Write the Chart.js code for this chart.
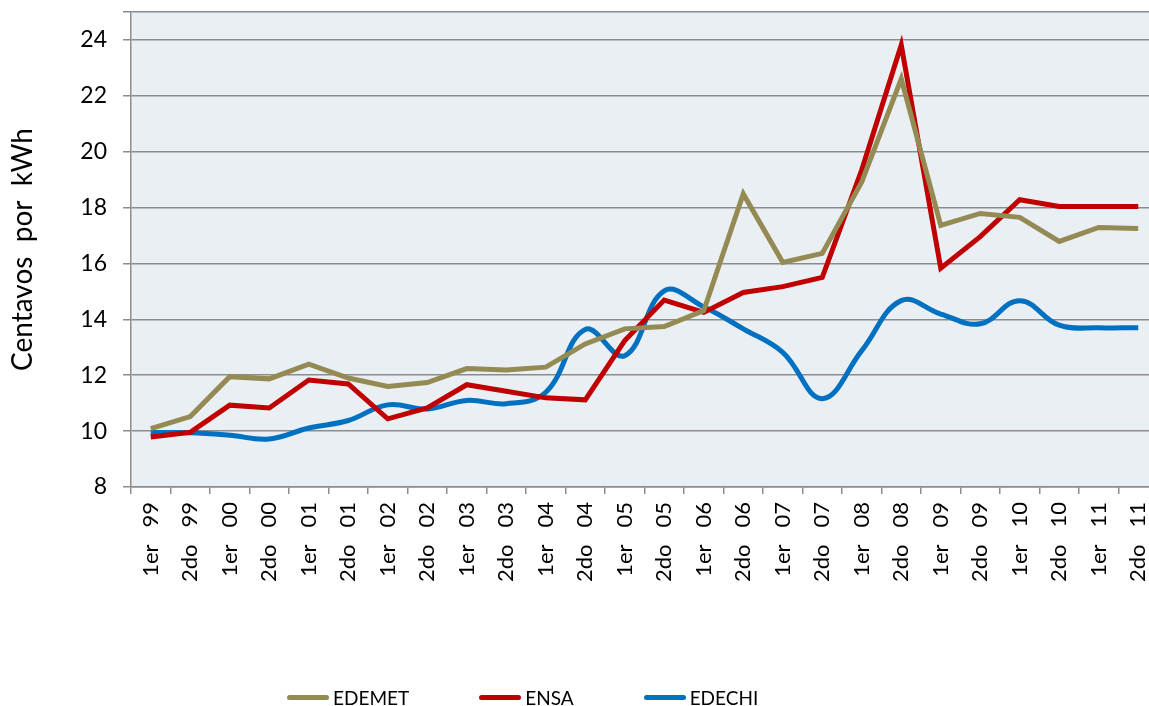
<!DOCTYPE html>
<html>
<head>
<meta charset="utf-8">
<script src="https://cdn.jsdelivr.net/npm/chart.js@4"></script>
<style>
  html, body { margin: 0; padding: 0; background: #fff; overflow: hidden; }
  #wrap { position: relative; width: 1158px; height: 706px; }
  #legend { position: absolute; left: 287px; top: 686px; display: flex; align-items: center; font-family: Lato, "Noto Sans", sans-serif; font-size: 19px; color: #000; }
  #legend .item { display: flex; align-items: center; margin-right: 70px; }
  #legend .line { width: 42px; height: 5px; border-radius: 3px; margin-right: 4px; }
</style>
</head>
<body>
<div id="wrap">
  <canvas id="chart"></canvas>
  <div id="legend"></div>
</div>
<script>
const years = ['99', '00', '01', '02', '03', '04', '05', '06', '07', '08', '09', '10', '11'];
const halves = ['1er', '2do'];
const labels = [];
years.forEach(y => halves.forEach(h => labels.push(h + '   ' + y)));

const edemet = [10.09, 10.52, 11.95, 11.87, 12.4, 11.9, 11.6, 11.74, 12.24, 12.19, 12.29, 13.12,
  13.66, 13.74, 14.31, 18.49, 16.04, 16.36, 18.92, 22.61, 17.36, 17.79, 17.65, 16.79, 17.29, 17.25];
const ensa = [9.79, 9.96, 10.93, 10.83, 11.83, 11.69, 10.44, 10.83, 11.66, 11.43, 11.19, 11.12,
  13.24, 14.69, 14.25, 14.96, 15.17, 15.5, 19.35, 23.82, 15.83, 16.96, 18.28, 18.04, 18.04, 18.04];
const edechi = [9.95, 9.94, 9.85, 9.72, 10.11, 10.38, 10.94, 10.79, 11.1, 10.98, 11.39, 13.64,
  12.7, 15.02, 14.45, 13.66, 12.82, 11.16, 12.88, 14.67, 14.19, 13.84, 14.67, 13.79, 13.7, 13.7];

const FONT = 'Lato, "Noto Sans", sans-serif';

// fondo del area de trazado
const plotBg = {
  id: 'plotBg',
  beforeDraw(chart) {
    const { ctx, chartArea: a } = chart;
    ctx.save();
    ctx.fillStyle = '#EAEFF4';
    ctx.fillRect(a.left, a.top, a.right - a.left, a.bottom - a.top);
    ctx.restore();
  }
};

const chart = new Chart(document.getElementById('chart'), {
  type: 'line',
  data: {
    labels: labels,
    datasets: [
      { label: 'EDEMET', data: edemet, borderColor: '#948A54', borderWidth: 5, tension: 0, pointRadius: 0 },
      { label: 'ENSA', data: ensa, borderColor: '#C00000', borderWidth: 5, tension: 0, pointRadius: 0 },
      { label: 'EDECHI', data: edechi, borderColor: '#0070C0', borderWidth: 5, tension: 0.4, pointRadius: 0 }
    ]
  },
  options: {
    responsive: true,
    maintainAspectRatio: false,
    animation: false,
    layout: { padding: { top: 12, left: 0, right: 0, bottom: 0 } },
    plugins: { legend: { display: false }, tooltip: { enabled: false } },
    scales: {
      x: {
        offset: true,
        grid: { drawOnChartArea: false, drawTicks: true, tickLength: 7, color: '#8C8C8C', lineWidth: 1.5, offset: true },
        border: { color: '#8C8C8C', width: 1.5 },
        ticks: { color: '#000', font: { family: FONT, size: 22 }, minRotation: 90, maxRotation: 90, padding: 8, autoSkip: false },
        afterFit: s => { s.height = 219; s.paddingLeft = 0; s.paddingRight = 0; }
      },
      y: {
        min: 8,
        max: 25,
        ticks: { stepSize: 2, color: '#000', font: { family: FONT, size: 23 }, padding: 16,
          callback: v => (v % 2 === 0 ? v : '') },
        grid: { color: '#8C8C8C', lineWidth: 1.5, tickLength: 8 },
        border: { color: '#8C8C8C', width: 1.5 },
        title: { display: true, text: 'Centavos  por  kWh', color: '#000', font: { family: FONT, size: 28 }, padding: { top: 6, bottom: 0 } },
        afterFit: s => { s.width = 131; s.paddingTop = 0; s.paddingBottom = 0; }
      }
    }
  },
  plugins: [plotBg]
});

// leyenda
const legend = document.getElementById('legend');
chart.data.datasets.forEach(ds => {
  const item = document.createElement('div');
  item.className = 'item';
  item.innerHTML = `<span class="line" style="background:${ds.borderColor}"></span><span>${ds.label}</span>`;
  legend.appendChild(item);
});
</script>
</body>
</html>
